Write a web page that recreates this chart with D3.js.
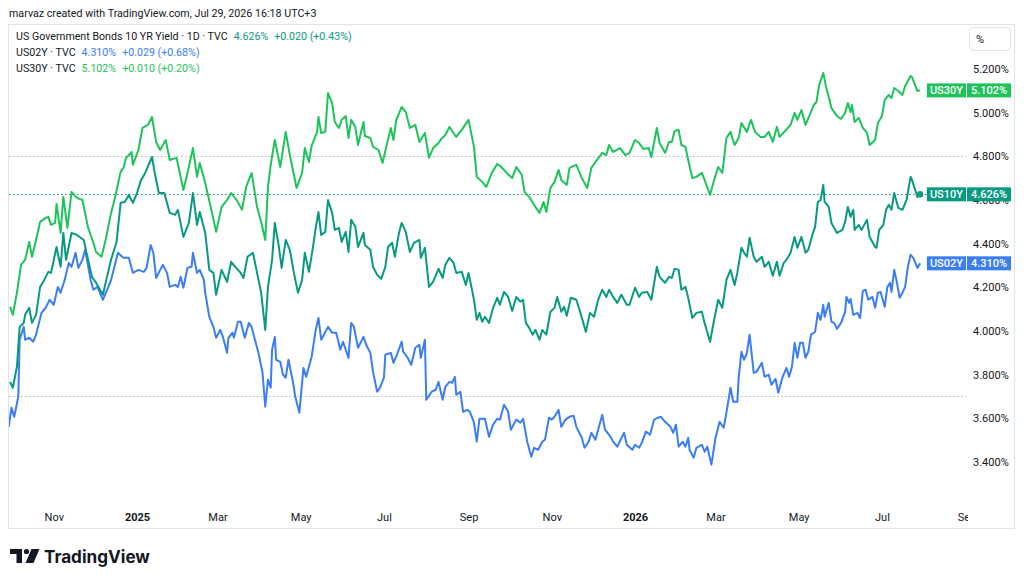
<!DOCTYPE html>
<html>
<head>
<meta charset="utf-8">
<script src="https://cdnjs.cloudflare.com/ajax/libs/d3/7.8.5/d3.min.js"></script>
<style>
body { margin: 0; background: #fff; }
svg text { font-family: Roboto, "Liberation Sans", sans-serif; }
</style>
</head>
<body>
<svg id="chart" width="1024" height="583"></svg>
<script>

// yields, [date, %]
var us10y = [["2024-09-30",3.767],["2024-10-02",3.740],["2024-10-05",3.836],["2024-10-07",4.019],["2024-10-10",4.037],["2024-10-11",4.074],["2024-10-14",4.106],["2024-10-16",4.037],["2024-10-19",4.074],["2024-10-22",4.202],["2024-10-25",4.234],["2024-10-28",4.271],["2024-10-30",4.266],["2024-11-03",4.385],["2024-11-06",4.294],["2024-11-08",4.449],["2024-11-10",4.326],["2024-11-14",4.449],["2024-11-18",4.440],["2024-11-23",4.417],["2024-11-25",4.358],["2024-11-29",4.248],["2024-12-02",4.221],["2024-12-07",4.166],["2024-12-10",4.248],["2024-12-13",4.326],["2024-12-17",4.408],["2024-12-20",4.587],["2024-12-23",4.591],["2024-12-26",4.623],["2024-12-29",4.587],["2025-01-01",4.632],["2025-01-04",4.692],["2025-01-07",4.724],["2025-01-12",4.797],["2025-01-14",4.724],["2025-01-17",4.632],["2025-01-21",4.632],["2025-01-25",4.541],["2025-01-29",4.532],["2025-01-31",4.555],["2025-02-04",4.431],["2025-02-08",4.495],["2025-02-11",4.632],["2025-02-14",4.486],["2025-02-16",4.545],["2025-02-20",4.449],["2025-02-23",4.280],["2025-02-26",4.266],["2025-02-28",4.166],["2025-03-04",4.280],["2025-03-08",4.225],["2025-03-11",4.317],["2025-03-14",4.294],["2025-03-18",4.266],["2025-03-20",4.243],["2025-03-23",4.340],["2025-03-27",4.358],["2025-03-30",4.266],["2025-04-02",4.175],["2025-04-05",4.005],["2025-04-07",4.202],["2025-04-10",4.326],["2025-04-12",4.495],["2025-04-15",4.385],["2025-04-17",4.289],["2025-04-20",4.417],["2025-04-23",4.372],["2025-04-26",4.266],["2025-04-29",4.175],["2025-05-02",4.234],["2025-05-04",4.358],["2025-05-07",4.271],["2025-05-10",4.385],["2025-05-12",4.472],["2025-05-14",4.545],["2025-05-16",4.440],["2025-05-19",4.454],["2025-05-21",4.600],["2025-05-24",4.541],["2025-05-26",4.463],["2025-05-29",4.472],["2025-05-31",4.408],["2025-06-03",4.454],["2025-06-05",4.362],["2025-06-07",4.509],["2025-06-10",4.477],["2025-06-12",4.385],["2025-06-16",4.449],["2025-06-17",4.394],["2025-06-21",4.372],["2025-06-23",4.294],["2025-06-26",4.257],["2025-06-29",4.239],["2025-07-02",4.294],["2025-07-04",4.385],["2025-07-07",4.404],["2025-07-09",4.340],["2025-07-12",4.449],["2025-07-14",4.495],["2025-07-17",4.454],["2025-07-20",4.362],["2025-07-23",4.404],["2025-07-27",4.417],["2025-07-28",4.335],["2025-07-31",4.381],["2025-08-03",4.202],["2025-08-06",4.225],["2025-08-10",4.285],["2025-08-13",4.243],["2025-08-15",4.303],["2025-08-18",4.335],["2025-08-21",4.312],["2025-08-23",4.266],["2025-08-27",4.271],["2025-08-30",4.211],["2025-09-01",4.266],["2025-09-05",4.143],["2025-09-07",4.051],["2025-09-09",4.083],["2025-09-11",4.042],["2025-09-13",4.065],["2025-09-16",4.037],["2025-09-19",4.106],["2025-09-22",4.152],["2025-09-24",4.120],["2025-09-27",4.179],["2025-09-30",4.156],["2025-10-03",4.092],["2025-10-06",4.156],["2025-10-09",4.134],["2025-10-11",4.143],["2025-10-13",4.037],["2025-10-15",4.019],["2025-10-18",3.983],["2025-10-20",4.005],["2025-10-23",3.960],["2025-10-25",4.005],["2025-10-28",3.983],["2025-10-31",4.088],["2025-11-03",4.106],["2025-11-05",4.156],["2025-11-08",4.088],["2025-11-10",4.111],["2025-11-12",4.070],["2025-11-15",4.152],["2025-11-19",4.143],["2025-11-22",4.083],["2025-11-26",3.996],["2025-11-29",4.083],["2025-12-02",4.065],["2025-12-05",4.143],["2025-12-08",4.189],["2025-12-11",4.156],["2025-12-13",4.189],["2025-12-16",4.156],["2025-12-19",4.129],["2025-12-22",4.166],["2025-12-26",4.120],["2025-12-28",4.120],["2026-01-01",4.198],["2026-01-04",4.156],["2026-01-06",4.175],["2026-01-10",4.179],["2026-01-13",4.143],["2026-01-17",4.294],["2026-01-19",4.248],["2026-01-23",4.221],["2026-01-26",4.248],["2026-01-28",4.243],["2026-01-30",4.285],["2026-02-02",4.280],["2026-02-04",4.189],["2026-02-07",4.202],["2026-02-09",4.152],["2026-02-12",4.060],["2026-02-15",4.083],["2026-02-19",4.088],["2026-02-21",4.037],["2026-02-25",3.951],["2026-02-28",4.051],["2026-03-03",4.143],["2026-03-06",4.106],["2026-03-09",4.234],["2026-03-12",4.280],["2026-03-15",4.211],["2026-03-17",4.266],["2026-03-20",4.381],["2026-03-22",4.358],["2026-03-24",4.340],["2026-03-26",4.427],["2026-03-29",4.340],["2026-03-31",4.317],["2026-04-04",4.340],["2026-04-06",4.294],["2026-04-09",4.317],["2026-04-12",4.253],["2026-04-15",4.317],["2026-04-17",4.253],["2026-04-20",4.312],["2026-04-22",4.326],["2026-04-25",4.358],["2026-04-28",4.431],["2026-04-30",4.381],["2026-05-03",4.431],["2026-05-06",4.358],["2026-05-08",4.372],["2026-05-11",4.440],["2026-05-13",4.477],["2026-05-15",4.591],["2026-05-17",4.600],["2026-05-19",4.669],["2026-05-20",4.591],["2026-05-23",4.568],["2026-05-25",4.495],["2026-05-29",4.449],["2026-06-02",4.463],["2026-06-04",4.500],["2026-06-06",4.568],["2026-06-08",4.523],["2026-06-10",4.555],["2026-06-11",4.463],["2026-06-14",4.486],["2026-06-16",4.463],["2026-06-18",4.486],["2026-06-20",4.509],["2026-06-22",4.431],["2026-06-26",4.385],["2026-06-27",4.381],["2026-06-29",4.463],["2026-07-02",4.486],["2026-07-04",4.555],["2026-07-06",4.578],["2026-07-08",4.555],["2026-07-10",4.632],["2026-07-13",4.564],["2026-07-16",4.555],["2026-07-19",4.600],["2026-07-22",4.706],["2026-07-23",4.692],["2026-07-27",4.614],["2026-07-29",4.626]];

var us02y = [["2024-09-29",3.561],["2024-10-01",3.648],["2024-10-03",3.607],["2024-10-06",3.699],["2024-10-07",3.960],["2024-10-10",4.019],["2024-10-11",3.960],["2024-10-14",3.969],["2024-10-17",3.951],["2024-10-19",3.983],["2024-10-23",4.083],["2024-10-26",4.106],["2024-10-29",4.143],["2024-11-01",4.120],["2024-11-04",4.202],["2024-11-06",4.175],["2024-11-09",4.234],["2024-11-12",4.312],["2024-11-14",4.294],["2024-11-17",4.358],["2024-11-19",4.289],["2024-11-22",4.326],["2024-11-24",4.372],["2024-11-28",4.234],["2024-11-30",4.189],["2024-12-03",4.202],["2024-12-07",4.143],["2024-12-11",4.202],["2024-12-13",4.234],["2024-12-18",4.358],["2024-12-22",4.335],["2024-12-26",4.335],["2024-12-29",4.266],["2025-01-02",4.280],["2025-01-06",4.271],["2025-01-08",4.289],["2025-01-11",4.394],["2025-01-13",4.358],["2025-01-15",4.243],["2025-01-18",4.280],["2025-01-20",4.303],["2025-01-23",4.266],["2025-01-25",4.202],["2025-01-29",4.211],["2025-01-31",4.202],["2025-02-02",4.248],["2025-02-04",4.198],["2025-02-07",4.289],["2025-02-10",4.294],["2025-02-11",4.358],["2025-02-14",4.266],["2025-02-16",4.280],["2025-02-19",4.234],["2025-02-20",4.175],["2025-02-23",4.065],["2025-02-26",4.019],["2025-02-28",3.969],["2025-03-03",4.005],["2025-03-05",3.973],["2025-03-08",3.900],["2025-03-09",3.969],["2025-03-12",3.992],["2025-03-13",3.969],["2025-03-16",4.042],["2025-03-18",4.042],["2025-03-21",3.969],["2025-03-24",4.037],["2025-03-26",4.019],["2025-03-29",3.946],["2025-03-31",3.900],["2025-04-03",3.809],["2025-04-05",3.653],["2025-04-07",3.777],["2025-04-09",3.740],["2025-04-10",3.914],["2025-04-12",3.973],["2025-04-13",3.868],["2025-04-16",3.859],["2025-04-18",3.800],["2025-04-20",3.786],["2025-04-22",3.868],["2025-04-25",3.777],["2025-04-27",3.699],["2025-04-30",3.626],["2025-05-03",3.831],["2025-05-05",3.790],["2025-05-09",3.882],["2025-05-12",4.005],["2025-05-14",4.060],["2025-05-16",3.960],["2025-05-18",3.983],["2025-05-21",4.019],["2025-05-24",3.992],["2025-05-27",3.992],["2025-05-30",3.914],["2025-06-01",3.951],["2025-06-05",3.877],["2025-06-07",4.037],["2025-06-09",4.019],["2025-06-12",3.923],["2025-06-16",3.973],["2025-06-18",3.937],["2025-06-21",3.900],["2025-06-23",3.813],["2025-06-26",3.722],["2025-06-28",3.740],["2025-07-01",3.786],["2025-07-02",3.891],["2025-07-06",3.900],["2025-07-08",3.854],["2025-07-11",3.900],["2025-07-14",3.951],["2025-07-15",3.905],["2025-07-18",3.882],["2025-07-21",3.845],["2025-07-24",3.923],["2025-07-27",3.937],["2025-07-28",3.877],["2025-07-31",3.960],["2025-08-01",3.685],["2025-08-05",3.722],["2025-08-08",3.731],["2025-08-10",3.767],["2025-08-13",3.685],["2025-08-15",3.745],["2025-08-18",3.767],["2025-08-20",3.763],["2025-08-22",3.790],["2025-08-23",3.708],["2025-08-26",3.722],["2025-08-28",3.630],["2025-08-31",3.639],["2025-09-02",3.630],["2025-09-05",3.580],["2025-09-07",3.493],["2025-09-09",3.598],["2025-09-13",3.598],["2025-09-16",3.516],["2025-09-19",3.571],["2025-09-22",3.598],["2025-09-24",3.594],["2025-09-27",3.662],["2025-09-30",3.630],["2025-10-02",3.548],["2025-10-06",3.594],["2025-10-09",3.580],["2025-10-11",3.598],["2025-10-14",3.493],["2025-10-17",3.424],["2025-10-19",3.465],["2025-10-22",3.456],["2025-10-25",3.493],["2025-10-27",3.502],["2025-10-30",3.603],["2025-11-01",3.594],["2025-11-03",3.607],["2025-11-06",3.639],["2025-11-08",3.561],["2025-11-11",3.594],["2025-11-14",3.607],["2025-11-17",3.612],["2025-11-19",3.561],["2025-11-23",3.511],["2025-11-25",3.465],["2025-11-28",3.493],["2025-11-30",3.534],["2025-12-03",3.502],["2025-12-06",3.571],["2025-12-08",3.616],["2025-12-10",3.548],["2025-12-14",3.516],["2025-12-16",3.493],["2025-12-19",3.470],["2025-12-24",3.534],["2025-12-26",3.479],["2025-12-30",3.456],["2026-01-01",3.479],["2026-01-04",3.465],["2026-01-06",3.488],["2026-01-09",3.539],["2026-01-12",3.525],["2026-01-15",3.594],["2026-01-18",3.603],["2026-01-20",3.607],["2026-01-23",3.584],["2026-01-27",3.561],["2026-01-29",3.534],["2026-01-31",3.571],["2026-02-02",3.470],["2026-02-05",3.493],["2026-02-07",3.470],["2026-02-09",3.511],["2026-02-10",3.456],["2026-02-13",3.420],["2026-02-15",3.465],["2026-02-19",3.479],["2026-02-21",3.447],["2026-02-23",3.470],["2026-02-26",3.388],["2026-03-01",3.511],["2026-03-04",3.584],["2026-03-07",3.557],["2026-03-09",3.626],["2026-03-12",3.740],["2026-03-14",3.676],["2026-03-17",3.676],["2026-03-18",3.786],["2026-03-20",3.905],["2026-03-22",3.868],["2026-03-24",3.900],["2026-03-26",3.983],["2026-03-29",3.809],["2026-03-31",3.813],["2026-04-04",3.854],["2026-04-06",3.790],["2026-04-09",3.800],["2026-04-11",3.754],["2026-04-14",3.781],["2026-04-16",3.717],["2026-04-19",3.786],["2026-04-22",3.831],["2026-04-24",3.790],["2026-04-26",3.836],["2026-04-28",3.946],["2026-04-30",3.877],["2026-05-02",3.946],["2026-05-04",3.946],["2026-05-06",3.877],["2026-05-08",3.905],["2026-05-10",3.983],["2026-05-13",3.996],["2026-05-15",4.083],["2026-05-17",4.051],["2026-05-19",4.120],["2026-05-20",4.065],["2026-05-23",4.129],["2026-05-25",4.042],["2026-05-27",4.037],["2026-05-29",4.010],["2026-06-01",4.037],["2026-06-04",4.088],["2026-06-05",4.156],["2026-06-07",4.129],["2026-06-08",4.147],["2026-06-10",4.074],["2026-06-13",4.083],["2026-06-15",4.060],["2026-06-17",4.184],["2026-06-19",4.189],["2026-06-21",4.143],["2026-06-24",4.156],["2026-06-26",4.106],["2026-06-28",4.175],["2026-06-30",4.179],["2026-07-03",4.111],["2026-07-05",4.202],["2026-07-07",4.221],["2026-07-08",4.179],["2026-07-10",4.280],["2026-07-12",4.221],["2026-07-14",4.152],["2026-07-16",4.175],["2026-07-18",4.202],["2026-07-20",4.294],["2026-07-22",4.349],["2026-07-24",4.335],["2026-07-27",4.289],["2026-07-29",4.310]];

var us30y = [["2024-09-30",4.111],["2024-10-02",4.074],["2024-10-05",4.175],["2024-10-08",4.303],["2024-10-11",4.326],["2024-10-14",4.408],["2024-10-16",4.340],["2024-10-19",4.417],["2024-10-22",4.500],["2024-10-26",4.518],["2024-10-28",4.523],["2024-10-30",4.486],["2024-11-02",4.495],["2024-11-03",4.582],["2024-11-06",4.449],["2024-11-08",4.614],["2024-11-11",4.472],["2024-11-14",4.637],["2024-11-18",4.610],["2024-11-22",4.600],["2024-11-26",4.477],["2024-11-30",4.404],["2024-12-02",4.362],["2024-12-06",4.340],["2024-12-09",4.417],["2024-12-13",4.541],["2024-12-16",4.614],["2024-12-20",4.729],["2024-12-22",4.747],["2024-12-24",4.793],["2024-12-28",4.820],["2024-12-29",4.761],["2025-01-02",4.829],["2025-01-05",4.930],["2025-01-09",4.944],["2025-01-12",4.980],["2025-01-15",4.866],["2025-01-18",4.829],["2025-01-22",4.875],["2025-01-25",4.783],["2025-01-30",4.793],["2025-02-04",4.646],["2025-02-07",4.724],["2025-02-11",4.838],["2025-02-14",4.706],["2025-02-16",4.770],["2025-02-20",4.678],["2025-02-25",4.541],["2025-02-28",4.454],["2025-03-04",4.568],["2025-03-08",4.600],["2025-03-11",4.632],["2025-03-15",4.600],["2025-03-19",4.555],["2025-03-22",4.660],["2025-03-26",4.724],["2025-03-30",4.568],["2025-04-02",4.500],["2025-04-05",4.417],["2025-04-07",4.660],["2025-04-09",4.761],["2025-04-12",4.875],["2025-04-16",4.751],["2025-04-20",4.912],["2025-04-23",4.806],["2025-04-28",4.655],["2025-05-02",4.724],["2025-05-04",4.838],["2025-05-07",4.774],["2025-05-09",4.848],["2025-05-13",4.912],["2025-05-14",4.980],["2025-05-16",4.907],["2025-05-19",4.912],["2025-05-21",5.090],["2025-05-24",5.044],["2025-05-26",4.957],["2025-05-29",4.930],["2025-05-31",4.967],["2025-06-03",4.985],["2025-06-05",4.884],["2025-06-07",4.967],["2025-06-10",4.935],["2025-06-12",4.852],["2025-06-16",4.957],["2025-06-17",4.893],["2025-06-21",4.884],["2025-06-23",4.843],["2025-06-27",4.829],["2025-06-30",4.770],["2025-07-03",4.852],["2025-07-06",4.930],["2025-07-08",4.875],["2025-07-10",4.967],["2025-07-14",5.026],["2025-07-17",5.003],["2025-07-20",4.930],["2025-07-24",4.944],["2025-07-27",4.866],["2025-07-31",4.907],["2025-08-03",4.793],["2025-08-06",4.838],["2025-08-10",4.861],["2025-08-12",4.880],["2025-08-15",4.898],["2025-08-18",4.935],["2025-08-21",4.907],["2025-08-23",4.889],["2025-08-27",4.921],["2025-09-01",4.967],["2025-09-05",4.843],["2025-09-07",4.706],["2025-09-11",4.683],["2025-09-14",4.660],["2025-09-18",4.724],["2025-09-22",4.765],["2025-09-25",4.751],["2025-09-29",4.724],["2025-10-03",4.701],["2025-10-06",4.751],["2025-10-10",4.715],["2025-10-12",4.637],["2025-10-16",4.610],["2025-10-20",4.568],["2025-10-23",4.541],["2025-10-26",4.591],["2025-10-28",4.545],["2025-10-31",4.655],["2025-11-03",4.683],["2025-11-06",4.738],["2025-11-08",4.692],["2025-11-12",4.669],["2025-11-14",4.747],["2025-11-19",4.761],["2025-11-23",4.701],["2025-11-27",4.655],["2025-11-30",4.747],["2025-12-04",4.783],["2025-12-08",4.816],["2025-12-11",4.806],["2025-12-13",4.852],["2025-12-16",4.820],["2025-12-21",4.838],["2025-12-25",4.806],["2025-12-28",4.816],["2026-01-01",4.875],["2026-01-04",4.861],["2026-01-07",4.834],["2026-01-11",4.838],["2026-01-13",4.797],["2026-01-17",4.930],["2026-01-19",4.861],["2026-01-23",4.816],["2026-01-26",4.866],["2026-01-28",4.866],["2026-01-30",4.916],["2026-02-02",4.921],["2026-02-04",4.852],["2026-02-07",4.843],["2026-02-09",4.783],["2026-02-12",4.701],["2026-02-15",4.706],["2026-02-19",4.724],["2026-02-21",4.692],["2026-02-25",4.623],["2026-02-28",4.692],["2026-03-03",4.751],["2026-03-06",4.724],["2026-03-09",4.884],["2026-03-12",4.912],["2026-03-15",4.852],["2026-03-18",4.884],["2026-03-20",4.953],["2026-03-24",4.912],["2026-03-27",4.967],["2026-03-30",4.912],["2026-04-03",4.889],["2026-04-06",4.889],["2026-04-09",4.912],["2026-04-12",4.866],["2026-04-15",4.935],["2026-04-17",4.889],["2026-04-21",4.916],["2026-04-25",4.944],["2026-04-28",4.999],["2026-04-30",4.967],["2026-05-03",5.012],["2026-05-06",4.944],["2026-05-09",4.989],["2026-05-12",5.035],["2026-05-14",5.049],["2026-05-16",5.127],["2026-05-19",5.182],["2026-05-21",5.118],["2026-05-23",5.072],["2026-05-25",5.021],["2026-05-29",4.985],["2026-06-01",4.971],["2026-06-04",4.999],["2026-06-06",5.044],["2026-06-08",5.003],["2026-06-09",5.035],["2026-06-11",4.957],["2026-06-14",4.976],["2026-06-17",4.930],["2026-06-20",4.907],["2026-06-22",4.852],["2026-06-26",4.875],["2026-06-28",4.953],["2026-07-01",4.985],["2026-07-03",5.058],["2026-07-06",5.081],["2026-07-08",5.067],["2026-07-10",5.113],["2026-07-13",5.099],["2026-07-16",5.081],["2026-07-18",5.122],["2026-07-22",5.168],["2026-07-23",5.163],["2026-07-27",5.099],["2026-07-29",5.102]];

var yTicks = [3.4, 3.6, 3.8, 4.0, 4.2, 4.4, 4.6, 4.8, 5.0, 5.2];
var refLines = [4.8, 3.7];

var legendNames = ["US Government Bonds 10 YR Yield \u00b7 1D \u00b7 TVC", "US02Y \u00b7 TVC", "US30Y \u00b7 TVC"];
var shortNames = ["US10Y", "US02Y", "US30Y"];
var lastText = ["4.626%", "4.310%", "5.102%"];
var changeText = ["+0.020 (+0.43%)", "+0.029 (+0.68%)", "+0.010 (+0.20%)"];
var colors = ["#089981", "#3a7df5", "#1fc35b"];

var seriesList = [us10y, us02y, us30y];

var parseDate = d3.timeParse("%Y-%m-%d");
var svg = d3.select("#chart");

var x = d3.scaleTime()
	.domain([parseDate("2025-01-01"), parseDate("2026-01-01")])
	.range([137, 635]);
var y = d3.scaleLinear().domain([3.4, 5.2]).range([462, 69]);

// size a text so that it spans the width seen in the picture
var fitFont = function(sel, width) {
	sel.style("font-size", "10px");
	var w = sel.node().getComputedTextLength();
	var fs = 10 * width / w;
	sel.style("font-size", fs + "px");
	return fs;
};

// header
var header = svg.append("text").attr("x", 9).attr("y", 17).attr("fill", "#131722")
	.text("marvaz created with TradingView.com, Jul 29, 2026 16:18 UTC+3");
fitFont(header, 308);

// pane frame
svg.append("rect").attr("x", 8.5).attr("y", 24.5).attr("width", 1006).attr("height", 504)
	.attr("fill", "#fff").attr("stroke", "#e0e3eb");

var defs = svg.append("defs");
defs.append("clipPath").attr("id", "plotClip").append("rect")
	.attr("x", 9).attr("y", 25).attr("width", 959).attr("height", 480);
defs.append("clipPath").attr("id", "timeClip").append("rect")
	.attr("x", 9).attr("y", 505).attr("width", 959).attr("height", 23);

var plot = svg.append("g").attr("clip-path", "url(#plotClip)");

// dotted horizontal lines
refLines.forEach(function(v) {
	plot.append("line").attr("x1", 9).attr("x2", 966)
		.attr("y1", Math.round(y(v)) + 0.5).attr("y2", Math.round(y(v)) + 0.5)
		.attr("stroke", "#b2b5be").attr("stroke-dasharray", "1.5,2.5");
});
var last10 = us10y[us10y.length - 1];
plot.append("line").attr("x1", 9).attr("x2", 966)
	.attr("y1", Math.round(y(last10[1])) + 0.5)
	.attr("y2", Math.round(y(last10[1])) + 0.5)
	.attr("stroke", colors[0]).attr("stroke-dasharray", "1.5,2.5");

var line = d3.line()
	.x(function(d) { return x(parseDate(d[0])); })
	.y(function(d) { return y(d[1]); });

[1, 2, 0].forEach(function(i) {
	plot.append("path").datum(seriesList[i])
		.attr("d", line)
		.attr("fill", "none")
		.attr("stroke", colors[i])
		.attr("stroke-width", 2)
		.attr("stroke-linejoin", "round");
});

plot.append("circle").attr("cx", x(parseDate(last10[0]))).attr("cy", y(last10[1]))
	.attr("r", 3.2).attr("fill", colors[0]);

// price scale
var yAxis = svg.append("g").attr("transform", "translate(973,0)")
	.call(d3.axisRight(y).tickValues(yTicks).tickSize(0).tickPadding(0)
		.tickFormat(function(d) { return d.toFixed(3) + "%"; }));
yAxis.select(".domain").remove();
yAxis.selectAll("text").style("font-size", "11px").attr("fill", "#131722")
	.style("font-family", "Roboto, 'Liberation Sans', sans-serif");

// time scale
var xAxisScale = d3.scaleTime().domain([x.invert(9), x.invert(990)]).range([9, 990]);
var xAxis = svg.append("g").attr("clip-path", "url(#timeClip)")
	.append("g").attr("transform", "translate(0,513)")
	.call(d3.axisBottom(xAxisScale).ticks(d3.timeMonth.every(2)).tickSize(0).tickPadding(0)
		.tickFormat(function(d) { return d.getMonth() == 0 ? d3.timeFormat("%Y")(d) : d3.timeFormat("%b")(d); }));
xAxis.select(".domain").remove();
xAxis.selectAll("text").style("font-size", "11px").attr("fill", "#131722")
	.style("font-family", "Roboto, 'Liberation Sans', sans-serif")
	.style("font-weight", function(d) { return d.getMonth() == 0 ? "bold" : "normal"; });

// right-side price labels
seriesList.forEach(function(s, i) {
	var v = s[s.length - 1][1];
	var cy = y(v);
	var g = svg.append("g");
	var nameText = g.append("text").attr("y", cy + 4).attr("fill", "#fff")
		.style("font-size", "11px").style("font-weight", "500").text(shortNames[i]);
	var nw = nameText.node().getComputedTextLength() + 6;
	g.insert("rect", "text").attr("x", 966 - nw).attr("y", cy - 7).attr("width", nw).attr("height", 14)
		.attr("fill", colors[i]);
	nameText.attr("x", 966 - nw + 3);
	g.append("rect").attr("x", 967).attr("y", cy - 7).attr("width", 44).attr("height", 14)
		.attr("fill", colors[i]);
	g.append("text").attr("x", 989).attr("y", cy + 4).attr("text-anchor", "middle")
		.attr("fill", "#fff").style("font-size", "11px").style("font-weight", "500").text(lastText[i]);
});

// percent button
svg.append("rect").attr("x", 969.5).attr("y", 27.5).attr("width", 41).attr("height", 23).attr("rx", 4)
	.attr("fill", "#fff").attr("stroke", "#e0e3eb");
svg.append("text").attr("x", 976).attr("y", 43).style("font-size", "11px").attr("fill", "#131722").text("%");

// legend
var legendSize = 11.5;
legendNames.forEach(function(name, i) {
	var ly = 40 + i * 16;
	var t1 = svg.append("text").attr("x", 16).attr("y", ly)
		.attr("fill", "#131722").text(name);
	if (i == 0) legendSize = fitFont(t1, 212);
	t1.style("font-size", legendSize + "px");
	var x2 = 16 + t1.node().getComputedTextLength() + 6;
	var t2 = svg.append("text").attr("x", x2).attr("y", ly).style("font-size", legendSize + "px")
		.attr("fill", colors[i]).text(lastText[i]);
	var x3 = x2 + t2.node().getComputedTextLength() + 6;
	svg.append("text").attr("x", x3).attr("y", ly).style("font-size", legendSize + "px")
		.attr("fill", colors[i]).text(changeText[i]);
});

// logo
var logo = svg.append("g").attr("fill", "#131722");
logo.append("path").attr("d", "M10,549 H22 V563 H16.5 V554 H10 Z");
logo.append("circle").attr("cx", 26.5).attr("cy", 551.5).attr("r", 2.6);
logo.append("path").attr("d", "M31.5,549 H39.5 L33.5,563 H25.5 Z");
var brand = svg.append("text").attr("x", 44).attr("y", 563)
	.style("font-family", "Inter, Roboto, sans-serif").style("font-weight", "700")
	.attr("fill", "#131722").text("TradingView");
fitFont(brand, 106);

</script>
</body>
</html>
